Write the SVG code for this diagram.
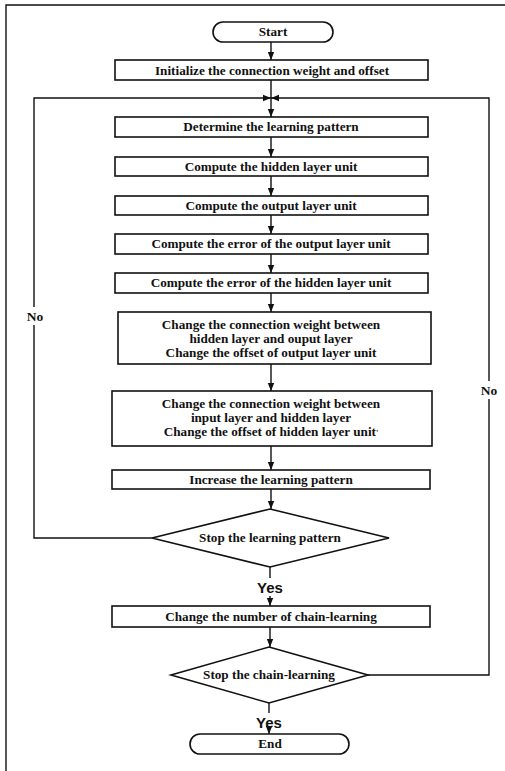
<svg xmlns="http://www.w3.org/2000/svg" width="505" height="771" viewBox="0 0 505 771">
<defs>
<marker id="ah" viewBox="0 0 10 10" refX="10" refY="5" markerWidth="8" markerHeight="8" markerUnits="userSpaceOnUse" orient="auto">
<path d="M0,1 L10,5 L0,9 Z" fill="#111"/>
</marker>
</defs>
<style>
.box{fill:#fff;stroke:#111;stroke-width:1.6}
.ln{fill:none;stroke:#111;stroke-width:1.4}
.t{font-family:"Liberation Serif","Times New Roman",serif;font-weight:bold;font-size:13.2px;fill:#111;text-anchor:middle}
.y{font-family:"Liberation Sans",Arial,sans-serif;font-weight:bold;font-size:15px;fill:#111;text-anchor:middle}
.n{font-family:"Liberation Serif","Times New Roman",serif;font-weight:bold;font-size:13.5px;fill:#111;text-anchor:middle}
</style>
<rect width="505" height="771" fill="#fff"/>
<path class="ln" d="M6,771 V5 H505"/>
<g id="connectors">
<line class="ln" x1="271" y1="42" x2="271" y2="60" marker-end="url(#ah)"/>
<line class="ln" x1="271" y1="80" x2="271" y2="117" marker-end="url(#ah)"/>
<line class="ln" x1="271" y1="137" x2="271" y2="157" marker-end="url(#ah)"/>
<line class="ln" x1="271" y1="176" x2="271" y2="196" marker-end="url(#ah)"/>
<line class="ln" x1="271" y1="215" x2="271" y2="234" marker-end="url(#ah)"/>
<line class="ln" x1="271" y1="254" x2="271" y2="273" marker-end="url(#ah)"/>
<line class="ln" x1="271" y1="293" x2="271" y2="312" marker-end="url(#ah)"/>
<line class="ln" x1="271" y1="364" x2="271" y2="391" marker-end="url(#ah)"/>
<line class="ln" x1="271" y1="446" x2="271" y2="470" marker-end="url(#ah)"/>
<line class="ln" x1="271" y1="489" x2="271" y2="509" marker-end="url(#ah)"/>
<line class="ln" x1="270" y1="567" x2="270" y2="578"/>
<line class="ln" x1="270" y1="596" x2="270" y2="606" marker-end="url(#ah)"/>
<line class="ln" x1="270" y1="627" x2="270" y2="647" marker-end="url(#ah)"/>
<line class="ln" x1="269" y1="703" x2="269" y2="713"/>
<line class="ln" x1="269" y1="731" x2="269" y2="734" marker-end="url(#ah)"/>
<path class="ln" d="M152,538 H34 V98 H271" marker-end="url(#ah)"/>
<path class="ln" d="M368,675 H489 V98 H271" marker-end="url(#ah)"/>
<rect x="24" y="307" width="22" height="18" fill="#fff"/>
<text class="n" x="35" y="321">No</text>
<rect x="478" y="381" width="22" height="18" fill="#fff"/>
<text class="n" x="489" y="395">No</text>
<text class="y" x="270" y="593">Yes</text>
<text class="y" x="269" y="728">Yes</text>
</g>
<g id="start">
<rect class="box" x="213" y="22" width="120" height="20" rx="10"/>
<text class="t" x="273" y="36">Start</text>
</g>
<g id="init">
<rect class="box" x="115" y="60" width="313" height="20"/>
<text class="t" x="272" y="75">Initialize the connection weight and offset</text>
</g>
<g id="determine">
<rect class="box" x="115" y="117" width="313" height="20"/>
<text class="t" x="271" y="131">Determine the learning pattern</text>
</g>
<g id="hidden">
<rect class="box" x="115" y="157" width="313" height="19"/>
<text class="t" x="271" y="171">Compute the hidden layer unit</text>
</g>
<g id="output">
<rect class="box" x="115" y="196" width="313" height="19"/>
<text class="t" x="271" y="210">Compute the output layer unit</text>
</g>
<g id="errout">
<rect class="box" x="115" y="234" width="313" height="20"/>
<text class="t" x="271" y="248">Compute the error of the output layer unit</text>
</g>
<g id="errhidden">
<rect class="box" x="115" y="273" width="313" height="20"/>
<text class="t" x="271" y="287">Compute the error of the hidden layer unit</text>
</g>
<g id="change1">
<rect class="box" x="118" y="312" width="313" height="52"/>
<text class="t" x="271" y="329">Change the connection weight between</text>
<text class="t" x="271" y="343">hidden layer and ouput layer</text>
<text class="t" x="271" y="357">Change the offset of output layer unit</text>
</g>
<g id="change2">
<rect class="box" x="112" y="391" width="320" height="55"/>
<text class="t" x="271" y="408">Change the connection weight between</text>
<text class="t" x="271" y="422">input layer and hidden layer</text>
<text class="t" x="271" y="436">Change the offset of hidden layer unit<tspan font-size="8">'</tspan></text>
</g>
<g id="increase">
<rect class="box" x="112" y="470" width="318" height="19"/>
<text class="t" x="271" y="484">Increase the learning pattern</text>
</g>
<g id="stop1">
<polygon class="box" points="270,509 389,538 270,567 152,538"/>
<text class="t" x="270" y="542">Stop the learning pattern</text>
</g>
<g id="chain">
<rect class="box" x="112" y="606" width="318" height="21"/>
<text class="t" x="271" y="621">Change the number of chain-learning</text>
</g>
<g id="stop2">
<polygon class="box" points="269,647 368,675 269,703 171,675"/>
<text class="t" x="269" y="679">Stop the chain-learning</text>
</g>
<g id="end">
<rect class="box" x="190" y="734" width="159" height="20" rx="10"/>
<text class="t" x="270" y="748">End</text>
</g>
</svg>
